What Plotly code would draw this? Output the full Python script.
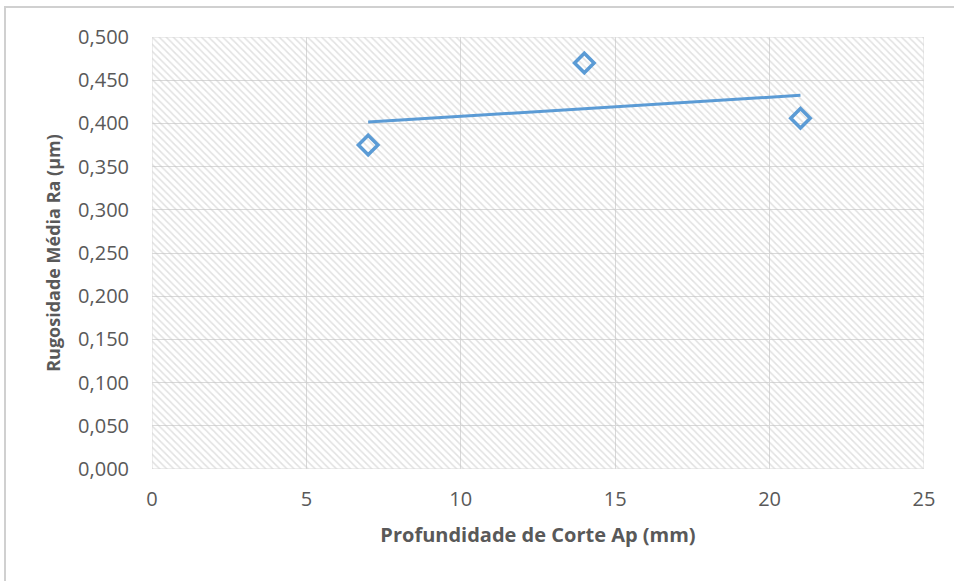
import numpy as np
import plotly.graph_objects as go

# Data
depth_mm = [7, 14, 21]
ra_um = [0.375, 0.470, 0.406]

x_ticks = [0, 5, 10, 15, 20, 25]
x_range = [0, 25]
y_range = [0, 0.5]

# Linear trendline through the data
slope, intercept = np.polyfit(depth_mm, ra_um, 1)
trend_x = [min(depth_mm), max(depth_mm)]
trend_y = [slope * v + intercept for v in trend_x]

color = "#5b9bd5"
grey_text = "#595959"
font_family = "'Open Sans', sans-serif"

fig = go.Figure()

# Hatched plot-area background
fig.add_trace(go.Scatter(
    x=[x_range[0], x_range[1], x_range[1], x_range[0], x_range[0]],
    y=[y_range[0], y_range[0], y_range[1], y_range[1], y_range[0]],
    mode="none", fill="toself",
    fillpattern=dict(shape="\\", fgcolor="#c4c4c4", bgcolor="rgba(0,0,0,0)",
                     size=5, solidity=0.3),
    hoverinfo="skip", showlegend=False,
))

fig.add_trace(go.Scatter(
    x=trend_x, y=trend_y, mode="lines",
    line=dict(color=color, width=3), showlegend=False,
))

fig.add_trace(go.Scatter(
    x=depth_mm, y=ra_um, mode="markers",
    marker=dict(symbol="diamond-open", size=15, color=color,
                line=dict(color=color, width=3.5)),
    showlegend=False,
))

W, H = 954, 581
L, R, T, B = 152, 30, 37, 112
pw, ph = W - L - R, H - T - B

fig.update_layout(
    width=W, height=H,
    margin=dict(l=L, r=R, t=T, b=B),
    paper_bgcolor="white", plot_bgcolor="white",
    separators=",.",
    font=dict(family=font_family, color=grey_text, size=20),
    xaxis=dict(
        range=x_range, tickvals=x_ticks, showgrid=True, gridcolor="#d9d9d9",
        gridwidth=1, zeroline=False, showline=False,
        ticks="outside", ticklen=12, tickcolor="rgba(0,0,0,0)",
        tickfont=dict(size=20, color=grey_text),
        title=dict(text="<b>Profundidade de Corte Ap (mm)</b>",
                   font=dict(size=20, color=grey_text), standoff=16),
    ),
    yaxis=dict(
        range=y_range, dtick=0.05, tickformat=".3f", showgrid=True,
        gridcolor="#d9d9d9", gridwidth=1, zeroline=False, showline=False,
        ticks="outside", ticklen=18, tickcolor="rgba(0,0,0,0)",
        tickfont=dict(size=20, color=grey_text),
        title=dict(text="<b>Rugosidade Média Ra (µm)</b>",
                   font=dict(size=18, color=grey_text), standoff=12),
    ),
    shapes=[
        # outer chart-area border (extends past the window on right/bottom)
        dict(type="rect", xref="paper", yref="paper",
             x0=-147 / pw, x1=1 + (R + 10) / pw,
             y0=-(B + 10) / ph, y1=1 + 30 / ph,
             line=dict(color="#d0d0d0", width=2), layer="above"),
        dict(type="rect", xref="x", yref="y", x0=x_range[0], x1=x_range[1],
             y0=y_range[0], y1=y_range[1],
             line=dict(color="#d9d9d9", width=1), layer="above"),
    ],
)

fig.write_html("out.html", config={"displayModeBar": False},
               post_script="document.body.style.margin='0';")
